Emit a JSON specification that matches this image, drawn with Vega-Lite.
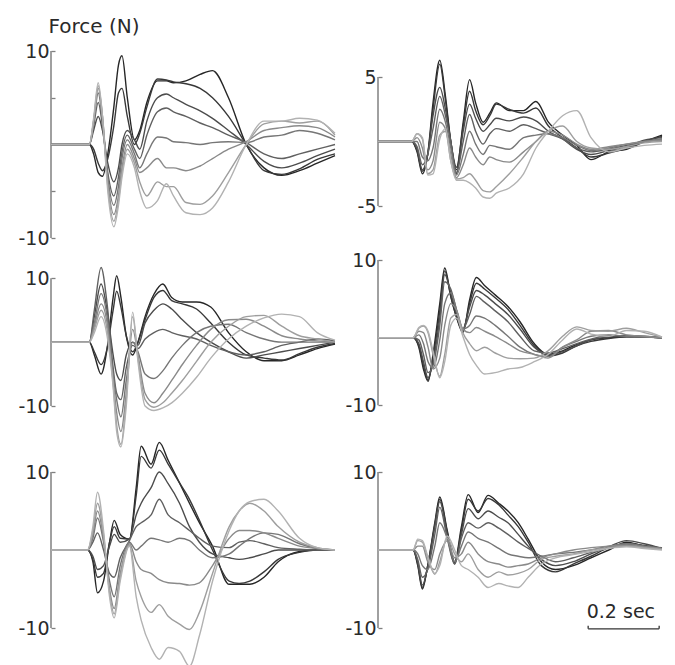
{
"$schema":"https://vega.github.io/schema/vega-lite/v6.json",
"background":"white",
"padding":{"left":17,"top":16,"right":0,"bottom":0},
"config":{"view":{"stroke":null},"axis":{"domain":false,"grid":false,"tickSize":-4,"tickColor":"#808080","tickWidth":1.3,"labelFont":"DejaVu Sans","labelFontSize":19,"labelColor":"#2a2a2a","labelPadding":6}},
"datasets":{
"ax":[{"p":1,"t":0,"lo":-10,"hi":10},{"p":2,"t":0,"lo":-5,"hi":5},{"p":3,"t":0,"lo":-10,"hi":10},{"p":4,"t":0,"lo":-10,"hi":10},{"p":5,"t":0,"lo":-10,"hi":10},{"p":6,"t":0,"lo":-10,"hi":10}],
"sb":[{"a":592,"b":792,"y":-10.1}],
"sbt":[{"x":592,"y1":-10.1,"y2":-9.7},{"x":792,"y1":-10.1,"y2":-9.7}],
"sbl":[{"x":588,"y":-8.7,"l":"0.2 sec"}],
"tr":[
{"p":1,"c":1,"t":0,"f":0},{"p":1,"c":1,"t":108,"f":0},{"p":1,"c":1,"t":120,"f":-1},{"p":1,"c":1,"t":133,"f":-3},{"p":1,"c":1,"t":145,"f":-3.4},{"p":1,"c":1,"t":160,"f":-1},{"p":1,"c":1,"t":177,"f":4},{"p":1,"c":1,"t":190,"f":8.5},{"p":1,"c":1,"t":200,"f":9.5},{"p":1,"c":1,"t":215,"f":5},{"p":1,"c":1,"t":235,"f":0.5},{"p":1,"c":1,"t":250,"f":1.5},{"p":1,"c":1,"t":270,"f":4.5},{"p":1,"c":1,"t":300,"f":6.8},{"p":1,"c":1,"t":325,"f":6.8},{"p":1,"c":1,"t":345,"f":6.6},{"p":1,"c":1,"t":380,"f":6.8},{"p":1,"c":1,"t":420,"f":7.5},{"p":1,"c":1,"t":455,"f":7.9},{"p":1,"c":1,"t":500,"f":5},{"p":1,"c":1,"t":550,"f":0},{"p":1,"c":1,"t":600,"f":-2.5},{"p":1,"c":1,"t":650,"f":-3.3},{"p":1,"c":1,"t":700,"f":-2.8},{"p":1,"c":1,"t":750,"f":-2},{"p":1,"c":1,"t":800,"f":-1.2},
{"p":1,"c":2,"t":0,"f":0},{"p":1,"c":2,"t":108,"f":0},{"p":1,"c":2,"t":120,"f":-0.5},{"p":1,"c":2,"t":133,"f":-2},{"p":1,"c":2,"t":145,"f":-2.8},{"p":1,"c":2,"t":160,"f":-1.5},{"p":1,"c":2,"t":177,"f":2},{"p":1,"c":2,"t":190,"f":5.5},{"p":1,"c":2,"t":200,"f":6},{"p":1,"c":2,"t":215,"f":3},{"p":1,"c":2,"t":235,"f":0},{"p":1,"c":2,"t":250,"f":1.2},{"p":1,"c":2,"t":270,"f":4},{"p":1,"c":2,"t":300,"f":7},{"p":1,"c":2,"t":325,"f":6.9},{"p":1,"c":2,"t":345,"f":6.7},{"p":1,"c":2,"t":380,"f":6.5},{"p":1,"c":2,"t":420,"f":6},{"p":1,"c":2,"t":455,"f":5},{"p":1,"c":2,"t":500,"f":3},{"p":1,"c":2,"t":550,"f":0},{"p":1,"c":2,"t":600,"f":-2.8},{"p":1,"c":2,"t":650,"f":-3.2},{"p":1,"c":2,"t":700,"f":-2.6},{"p":1,"c":2,"t":750,"f":-1.6},{"p":1,"c":2,"t":800,"f":-1},
{"p":1,"c":3,"t":0,"f":0},{"p":1,"c":3,"t":108,"f":0},{"p":1,"c":3,"t":120,"f":1.5},{"p":1,"c":3,"t":133,"f":3},{"p":1,"c":3,"t":145,"f":1.5},{"p":1,"c":3,"t":160,"f":-2},{"p":1,"c":3,"t":177,"f":-4},{"p":1,"c":3,"t":190,"f":-2.5},{"p":1,"c":3,"t":200,"f":0},{"p":1,"c":3,"t":215,"f":1.5},{"p":1,"c":3,"t":235,"f":0.5},{"p":1,"c":3,"t":250,"f":-0.5},{"p":1,"c":3,"t":270,"f":2.5},{"p":1,"c":3,"t":300,"f":5},{"p":1,"c":3,"t":325,"f":5.4},{"p":1,"c":3,"t":345,"f":5},{"p":1,"c":3,"t":380,"f":4.3},{"p":1,"c":3,"t":420,"f":3.6},{"p":1,"c":3,"t":455,"f":2.8},{"p":1,"c":3,"t":500,"f":1.5},{"p":1,"c":3,"t":550,"f":0},{"p":1,"c":3,"t":600,"f":-1.8},{"p":1,"c":3,"t":650,"f":-2.5},{"p":1,"c":3,"t":700,"f":-2},{"p":1,"c":3,"t":750,"f":-1.2},{"p":1,"c":3,"t":800,"f":-0.5},
{"p":1,"c":4,"t":0,"f":0},{"p":1,"c":4,"t":108,"f":0},{"p":1,"c":4,"t":120,"f":2},{"p":1,"c":4,"t":133,"f":4.5},{"p":1,"c":4,"t":145,"f":2},{"p":1,"c":4,"t":160,"f":-3},{"p":1,"c":4,"t":177,"f":-5.5},{"p":1,"c":4,"t":190,"f":-3.5},{"p":1,"c":4,"t":200,"f":-0.8},{"p":1,"c":4,"t":215,"f":1},{"p":1,"c":4,"t":235,"f":-0.5},{"p":1,"c":4,"t":250,"f":-1.5},{"p":1,"c":4,"t":270,"f":1},{"p":1,"c":4,"t":300,"f":3.5},{"p":1,"c":4,"t":325,"f":3.9},{"p":1,"c":4,"t":345,"f":3.5},{"p":1,"c":4,"t":380,"f":3},{"p":1,"c":4,"t":420,"f":2.3},{"p":1,"c":4,"t":455,"f":1.8},{"p":1,"c":4,"t":500,"f":1},{"p":1,"c":4,"t":550,"f":0.2},{"p":1,"c":4,"t":600,"f":-1},{"p":1,"c":4,"t":650,"f":-1.5},{"p":1,"c":4,"t":700,"f":-1},{"p":1,"c":4,"t":750,"f":-0.5},{"p":1,"c":4,"t":800,"f":0},
{"p":1,"c":5,"t":0,"f":0},{"p":1,"c":5,"t":108,"f":0},{"p":1,"c":5,"t":120,"f":2.2},{"p":1,"c":5,"t":133,"f":5.5},{"p":1,"c":5,"t":145,"f":2.5},{"p":1,"c":5,"t":160,"f":-3.5},{"p":1,"c":5,"t":177,"f":-6.5},{"p":1,"c":5,"t":190,"f":-4.5},{"p":1,"c":5,"t":200,"f":-1.5},{"p":1,"c":5,"t":215,"f":0.5},{"p":1,"c":5,"t":235,"f":-1},{"p":1,"c":5,"t":250,"f":-2.5},{"p":1,"c":5,"t":270,"f":-1},{"p":1,"c":5,"t":300,"f":0.8},{"p":1,"c":5,"t":325,"f":0.7},{"p":1,"c":5,"t":345,"f":0.3},{"p":1,"c":5,"t":380,"f":0.2},{"p":1,"c":5,"t":420,"f":0},{"p":1,"c":5,"t":455,"f":0.2},{"p":1,"c":5,"t":500,"f":0.3},{"p":1,"c":5,"t":550,"f":0.2},{"p":1,"c":5,"t":600,"f":0.8},{"p":1,"c":5,"t":650,"f":1},{"p":1,"c":5,"t":700,"f":1.5},{"p":1,"c":5,"t":750,"f":1.2},{"p":1,"c":5,"t":800,"f":0.5},
{"p":1,"c":6,"t":0,"f":0},{"p":1,"c":6,"t":108,"f":0},{"p":1,"c":6,"t":120,"f":2.5},{"p":1,"c":6,"t":133,"f":6},{"p":1,"c":6,"t":145,"f":3},{"p":1,"c":6,"t":160,"f":-4},{"p":1,"c":6,"t":177,"f":-7.5},{"p":1,"c":6,"t":190,"f":-5.5},{"p":1,"c":6,"t":200,"f":-2.5},{"p":1,"c":6,"t":215,"f":0},{"p":1,"c":6,"t":235,"f":-1.5},{"p":1,"c":6,"t":250,"f":-3},{"p":1,"c":6,"t":270,"f":-2.5},{"p":1,"c":6,"t":300,"f":-1.5},{"p":1,"c":6,"t":325,"f":-2.5},{"p":1,"c":6,"t":345,"f":-2.5},{"p":1,"c":6,"t":380,"f":-2.8},{"p":1,"c":6,"t":420,"f":-2.3},{"p":1,"c":6,"t":455,"f":-1.5},{"p":1,"c":6,"t":500,"f":-0.5},{"p":1,"c":6,"t":550,"f":0.3},{"p":1,"c":6,"t":600,"f":1.5},{"p":1,"c":6,"t":650,"f":1.8},{"p":1,"c":6,"t":700,"f":2},{"p":1,"c":6,"t":750,"f":1.8},{"p":1,"c":6,"t":800,"f":0.8},
{"p":1,"c":7,"t":0,"f":0},{"p":1,"c":7,"t":108,"f":0},{"p":1,"c":7,"t":120,"f":2.5},{"p":1,"c":7,"t":133,"f":6.3},{"p":1,"c":7,"t":145,"f":3},{"p":1,"c":7,"t":160,"f":-4.5},{"p":1,"c":7,"t":177,"f":-8.2},{"p":1,"c":7,"t":190,"f":-6},{"p":1,"c":7,"t":200,"f":-3},{"p":1,"c":7,"t":215,"f":-0.5},{"p":1,"c":7,"t":235,"f":-2},{"p":1,"c":7,"t":250,"f":-4},{"p":1,"c":7,"t":270,"f":-5.5},{"p":1,"c":7,"t":300,"f":-4},{"p":1,"c":7,"t":325,"f":-4.5},{"p":1,"c":7,"t":345,"f":-4.5},{"p":1,"c":7,"t":380,"f":-6.2},{"p":1,"c":7,"t":420,"f":-6.4},{"p":1,"c":7,"t":455,"f":-5.5},{"p":1,"c":7,"t":500,"f":-3},{"p":1,"c":7,"t":550,"f":0},{"p":1,"c":7,"t":600,"f":2.2},{"p":1,"c":7,"t":650,"f":2.5},{"p":1,"c":7,"t":700,"f":2.3},{"p":1,"c":7,"t":750,"f":2.5},{"p":1,"c":7,"t":800,"f":1},
{"p":1,"c":8,"t":0,"f":0},{"p":1,"c":8,"t":108,"f":0},{"p":1,"c":8,"t":120,"f":2.8},{"p":1,"c":8,"t":133,"f":6.6},{"p":1,"c":8,"t":145,"f":3},{"p":1,"c":8,"t":160,"f":-5},{"p":1,"c":8,"t":177,"f":-8.8},{"p":1,"c":8,"t":190,"f":-6.5},{"p":1,"c":8,"t":200,"f":-3.5},{"p":1,"c":8,"t":215,"f":-1},{"p":1,"c":8,"t":235,"f":-2.5},{"p":1,"c":8,"t":250,"f":-5},{"p":1,"c":8,"t":270,"f":-6.8},{"p":1,"c":8,"t":300,"f":-6},{"p":1,"c":8,"t":325,"f":-4.2},{"p":1,"c":8,"t":345,"f":-5.5},{"p":1,"c":8,"t":380,"f":-7.3},{"p":1,"c":8,"t":420,"f":-7.5},{"p":1,"c":8,"t":455,"f":-6.8},{"p":1,"c":8,"t":500,"f":-4},{"p":1,"c":8,"t":550,"f":0},{"p":1,"c":8,"t":600,"f":2.5},{"p":1,"c":8,"t":650,"f":2.5},{"p":1,"c":8,"t":700,"f":2.8},{"p":1,"c":8,"t":750,"f":2.6},{"p":1,"c":8,"t":800,"f":1.2},
{"p":2,"c":1,"t":0,"f":0},{"p":2,"c":1,"t":95,"f":0},{"p":2,"c":1,"t":110,"f":-0.8},{"p":2,"c":1,"t":125,"f":-2.5},{"p":2,"c":1,"t":140,"f":-1},{"p":2,"c":1,"t":155,"f":3},{"p":2,"c":1,"t":174,"f":6.3},{"p":2,"c":1,"t":190,"f":3.5},{"p":2,"c":1,"t":205,"f":0},{"p":2,"c":1,"t":221,"f":-2.2},{"p":2,"c":1,"t":240,"f":1.5},{"p":2,"c":1,"t":258,"f":4.8},{"p":2,"c":1,"t":275,"f":3},{"p":2,"c":1,"t":296,"f":1.5},{"p":2,"c":1,"t":315,"f":2.2},{"p":2,"c":1,"t":333,"f":3},{"p":2,"c":1,"t":370,"f":2.4},{"p":2,"c":1,"t":410,"f":2.4},{"p":2,"c":1,"t":445,"f":3.1},{"p":2,"c":1,"t":480,"f":1.5},{"p":2,"c":1,"t":520,"f":0.5},{"p":2,"c":1,"t":560,"f":-0.3},{"p":2,"c":1,"t":600,"f":-1.4},{"p":2,"c":1,"t":650,"f":-0.8},{"p":2,"c":1,"t":700,"f":-0.6},{"p":2,"c":1,"t":750,"f":0},{"p":2,"c":1,"t":800,"f":0.5},
{"p":2,"c":2,"t":0,"f":0},{"p":2,"c":2,"t":95,"f":0},{"p":2,"c":2,"t":110,"f":-0.7},{"p":2,"c":2,"t":125,"f":-2.3},{"p":2,"c":2,"t":140,"f":-1},{"p":2,"c":2,"t":155,"f":2.5},{"p":2,"c":2,"t":174,"f":6},{"p":2,"c":2,"t":190,"f":3.2},{"p":2,"c":2,"t":205,"f":0},{"p":2,"c":2,"t":221,"f":-2},{"p":2,"c":2,"t":240,"f":1.2},{"p":2,"c":2,"t":258,"f":3.9},{"p":2,"c":2,"t":275,"f":2.4},{"p":2,"c":2,"t":296,"f":1.3},{"p":2,"c":2,"t":315,"f":2},{"p":2,"c":2,"t":333,"f":2.9},{"p":2,"c":2,"t":370,"f":2.5},{"p":2,"c":2,"t":410,"f":2.2},{"p":2,"c":2,"t":445,"f":2.6},{"p":2,"c":2,"t":480,"f":1.2},{"p":2,"c":2,"t":520,"f":0.3},{"p":2,"c":2,"t":560,"f":-0.5},{"p":2,"c":2,"t":600,"f":-1.2},{"p":2,"c":2,"t":650,"f":-0.9},{"p":2,"c":2,"t":700,"f":-0.5},{"p":2,"c":2,"t":750,"f":0},{"p":2,"c":2,"t":800,"f":0.4},
{"p":2,"c":3,"t":0,"f":0},{"p":2,"c":3,"t":95,"f":0},{"p":2,"c":3,"t":110,"f":-0.6},{"p":2,"c":3,"t":125,"f":-2.2},{"p":2,"c":3,"t":140,"f":-1},{"p":2,"c":3,"t":155,"f":2},{"p":2,"c":3,"t":174,"f":4.2},{"p":2,"c":3,"t":190,"f":2.5},{"p":2,"c":3,"t":205,"f":0},{"p":2,"c":3,"t":221,"f":-2.5},{"p":2,"c":3,"t":240,"f":0.8},{"p":2,"c":3,"t":258,"f":2.9},{"p":2,"c":3,"t":275,"f":1.8},{"p":2,"c":3,"t":296,"f":0.8},{"p":2,"c":3,"t":315,"f":1.3},{"p":2,"c":3,"t":333,"f":1.8},{"p":2,"c":3,"t":370,"f":1.6},{"p":2,"c":3,"t":410,"f":1.9},{"p":2,"c":3,"t":445,"f":1.6},{"p":2,"c":3,"t":480,"f":0.8},{"p":2,"c":3,"t":520,"f":0.2},{"p":2,"c":3,"t":560,"f":-0.6},{"p":2,"c":3,"t":600,"f":-1},{"p":2,"c":3,"t":650,"f":-0.7},{"p":2,"c":3,"t":700,"f":-0.4},{"p":2,"c":3,"t":750,"f":0.1},{"p":2,"c":3,"t":800,"f":0.3},
{"p":2,"c":4,"t":0,"f":0},{"p":2,"c":4,"t":95,"f":0},{"p":2,"c":4,"t":110,"f":-0.4},{"p":2,"c":4,"t":125,"f":-1.8},{"p":2,"c":4,"t":140,"f":-1},{"p":2,"c":4,"t":155,"f":1},{"p":2,"c":4,"t":174,"f":3.5},{"p":2,"c":4,"t":190,"f":2},{"p":2,"c":4,"t":205,"f":0},{"p":2,"c":4,"t":221,"f":-2.4},{"p":2,"c":4,"t":240,"f":0},{"p":2,"c":4,"t":258,"f":2.1},{"p":2,"c":4,"t":275,"f":0.8},{"p":2,"c":4,"t":296,"f":-0.2},{"p":2,"c":4,"t":315,"f":0.6},{"p":2,"c":4,"t":333,"f":1},{"p":2,"c":4,"t":370,"f":0.8},{"p":2,"c":4,"t":410,"f":1.3},{"p":2,"c":4,"t":445,"f":1},{"p":2,"c":4,"t":480,"f":0.6},{"p":2,"c":4,"t":520,"f":0.2},{"p":2,"c":4,"t":560,"f":-0.5},{"p":2,"c":4,"t":600,"f":-0.8},{"p":2,"c":4,"t":650,"f":-0.6},{"p":2,"c":4,"t":700,"f":-0.3},{"p":2,"c":4,"t":750,"f":0},{"p":2,"c":4,"t":800,"f":0.2},
{"p":2,"c":5,"t":0,"f":0},{"p":2,"c":5,"t":95,"f":0},{"p":2,"c":5,"t":110,"f":0},{"p":2,"c":5,"t":125,"f":-1.2},{"p":2,"c":5,"t":140,"f":-1.5},{"p":2,"c":5,"t":155,"f":-0.5},{"p":2,"c":5,"t":174,"f":2.5},{"p":2,"c":5,"t":190,"f":1.5},{"p":2,"c":5,"t":205,"f":-0.5},{"p":2,"c":5,"t":221,"f":-2.6},{"p":2,"c":5,"t":240,"f":-1},{"p":2,"c":5,"t":258,"f":0.8},{"p":2,"c":5,"t":275,"f":-0.2},{"p":2,"c":5,"t":296,"f":-1},{"p":2,"c":5,"t":315,"f":-0.3},{"p":2,"c":5,"t":333,"f":-0.4},{"p":2,"c":5,"t":370,"f":-0.6},{"p":2,"c":5,"t":410,"f":0.3},{"p":2,"c":5,"t":445,"f":0.5},{"p":2,"c":5,"t":480,"f":0.6},{"p":2,"c":5,"t":520,"f":0.3},{"p":2,"c":5,"t":560,"f":-0.3},{"p":2,"c":5,"t":600,"f":-0.7},{"p":2,"c":5,"t":650,"f":-0.5},{"p":2,"c":5,"t":700,"f":-0.2},{"p":2,"c":5,"t":750,"f":0},{"p":2,"c":5,"t":800,"f":0.2},
{"p":2,"c":6,"t":0,"f":0},{"p":2,"c":6,"t":95,"f":0},{"p":2,"c":6,"t":110,"f":0.3},{"p":2,"c":6,"t":125,"f":-0.5},{"p":2,"c":6,"t":140,"f":-2.2},{"p":2,"c":6,"t":155,"f":-1.5},{"p":2,"c":6,"t":174,"f":1.5},{"p":2,"c":6,"t":190,"f":1},{"p":2,"c":6,"t":205,"f":-1},{"p":2,"c":6,"t":221,"f":-2.8},{"p":2,"c":6,"t":240,"f":-1.8},{"p":2,"c":6,"t":258,"f":-0.5},{"p":2,"c":6,"t":275,"f":-1.2},{"p":2,"c":6,"t":296,"f":-1.8},{"p":2,"c":6,"t":315,"f":-1.2},{"p":2,"c":6,"t":333,"f":-1.4},{"p":2,"c":6,"t":370,"f":-1.6},{"p":2,"c":6,"t":410,"f":-0.8},{"p":2,"c":6,"t":445,"f":0},{"p":2,"c":6,"t":480,"f":0.8},{"p":2,"c":6,"t":520,"f":0.5},{"p":2,"c":6,"t":560,"f":-0.2},{"p":2,"c":6,"t":600,"f":-0.6},{"p":2,"c":6,"t":650,"f":-0.4},{"p":2,"c":6,"t":700,"f":-0.2},{"p":2,"c":6,"t":750,"f":0},{"p":2,"c":6,"t":800,"f":0.1},
{"p":2,"c":7,"t":0,"f":0},{"p":2,"c":7,"t":95,"f":0},{"p":2,"c":7,"t":110,"f":0.6},{"p":2,"c":7,"t":125,"f":0.2},{"p":2,"c":7,"t":140,"f":-2.5},{"p":2,"c":7,"t":155,"f":-2.2},{"p":2,"c":7,"t":174,"f":0.5},{"p":2,"c":7,"t":190,"f":0.8},{"p":2,"c":7,"t":205,"f":-1.5},{"p":2,"c":7,"t":221,"f":-2.9},{"p":2,"c":7,"t":240,"f":-2.8},{"p":2,"c":7,"t":258,"f":-2.5},{"p":2,"c":7,"t":275,"f":-3},{"p":2,"c":7,"t":296,"f":-3.8},{"p":2,"c":7,"t":315,"f":-3.9},{"p":2,"c":7,"t":333,"f":-3.5},{"p":2,"c":7,"t":370,"f":-2.5},{"p":2,"c":7,"t":410,"f":-1.2},{"p":2,"c":7,"t":445,"f":0},{"p":2,"c":7,"t":480,"f":0.8},{"p":2,"c":7,"t":520,"f":1.2},{"p":2,"c":7,"t":560,"f":0},{"p":2,"c":7,"t":600,"f":-0.5},{"p":2,"c":7,"t":650,"f":-0.6},{"p":2,"c":7,"t":700,"f":-0.4},{"p":2,"c":7,"t":750,"f":-0.1},{"p":2,"c":7,"t":800,"f":0},
{"p":2,"c":8,"t":0,"f":0},{"p":2,"c":8,"t":95,"f":0},{"p":2,"c":8,"t":110,"f":0.6},{"p":2,"c":8,"t":125,"f":0.3},{"p":2,"c":8,"t":140,"f":-2.6},{"p":2,"c":8,"t":155,"f":-2.5},{"p":2,"c":8,"t":174,"f":0.2},{"p":2,"c":8,"t":190,"f":1},{"p":2,"c":8,"t":205,"f":-1.5},{"p":2,"c":8,"t":221,"f":-3},{"p":2,"c":8,"t":240,"f":-3},{"p":2,"c":8,"t":258,"f":-3.2},{"p":2,"c":8,"t":275,"f":-3.6},{"p":2,"c":8,"t":296,"f":-4.3},{"p":2,"c":8,"t":315,"f":-4.4},{"p":2,"c":8,"t":333,"f":-4},{"p":2,"c":8,"t":370,"f":-3.6},{"p":2,"c":8,"t":410,"f":-2.5},{"p":2,"c":8,"t":445,"f":-0.5},{"p":2,"c":8,"t":480,"f":0.8},{"p":2,"c":8,"t":520,"f":2},{"p":2,"c":8,"t":560,"f":2.4},{"p":2,"c":8,"t":600,"f":0.3},{"p":2,"c":8,"t":650,"f":-0.8},{"p":2,"c":8,"t":700,"f":-0.5},{"p":2,"c":8,"t":750,"f":-0.3},{"p":2,"c":8,"t":800,"f":-0.2},
{"p":3,"c":1,"t":0,"f":0},{"p":3,"c":1,"t":108,"f":0},{"p":3,"c":1,"t":122,"f":-2},{"p":3,"c":1,"t":141,"f":-5},{"p":3,"c":1,"t":158,"f":-1},{"p":3,"c":1,"t":175,"f":7},{"p":3,"c":1,"t":185,"f":10.4},{"p":3,"c":1,"t":197,"f":7},{"p":3,"c":1,"t":212,"f":1},{"p":3,"c":1,"t":230,"f":-2},{"p":3,"c":1,"t":245,"f":0},{"p":3,"c":1,"t":265,"f":4},{"p":3,"c":1,"t":290,"f":7.5},{"p":3,"c":1,"t":315,"f":9.1},{"p":3,"c":1,"t":340,"f":7},{"p":3,"c":1,"t":370,"f":6.3},{"p":3,"c":1,"t":410,"f":6.3},{"p":3,"c":1,"t":450,"f":5.5},{"p":3,"c":1,"t":500,"f":1.5},{"p":3,"c":1,"t":550,"f":-1.5},{"p":3,"c":1,"t":600,"f":-2.9},{"p":3,"c":1,"t":650,"f":-2.9},{"p":3,"c":1,"t":700,"f":-2},{"p":3,"c":1,"t":750,"f":-1},{"p":3,"c":1,"t":800,"f":-0.3},
{"p":3,"c":2,"t":0,"f":0},{"p":3,"c":2,"t":108,"f":0},{"p":3,"c":2,"t":122,"f":-1.5},{"p":3,"c":2,"t":141,"f":-3.5},{"p":3,"c":2,"t":158,"f":-1},{"p":3,"c":2,"t":175,"f":5},{"p":3,"c":2,"t":185,"f":8},{"p":3,"c":2,"t":197,"f":5.5},{"p":3,"c":2,"t":212,"f":1},{"p":3,"c":2,"t":230,"f":-1.5},{"p":3,"c":2,"t":245,"f":0},{"p":3,"c":2,"t":265,"f":3.5},{"p":3,"c":2,"t":290,"f":7},{"p":3,"c":2,"t":315,"f":8.1},{"p":3,"c":2,"t":340,"f":6.5},{"p":3,"c":2,"t":370,"f":6},{"p":3,"c":2,"t":410,"f":5.2},{"p":3,"c":2,"t":450,"f":3},{"p":3,"c":2,"t":500,"f":0},{"p":3,"c":2,"t":550,"f":-2},{"p":3,"c":2,"t":600,"f":-2.5},{"p":3,"c":2,"t":650,"f":-2.8},{"p":3,"c":2,"t":700,"f":-1.8},{"p":3,"c":2,"t":750,"f":-0.8},{"p":3,"c":2,"t":800,"f":-0.2},
{"p":3,"c":3,"t":0,"f":0},{"p":3,"c":3,"t":108,"f":0},{"p":3,"c":3,"t":122,"f":4},{"p":3,"c":3,"t":141,"f":9.1},{"p":3,"c":3,"t":158,"f":5},{"p":3,"c":3,"t":175,"f":-2},{"p":3,"c":3,"t":185,"f":-5},{"p":3,"c":3,"t":197,"f":-6},{"p":3,"c":3,"t":212,"f":-2},{"p":3,"c":3,"t":230,"f":0},{"p":3,"c":3,"t":245,"f":-0.5},{"p":3,"c":3,"t":265,"f":3},{"p":3,"c":3,"t":290,"f":5},{"p":3,"c":3,"t":315,"f":6},{"p":3,"c":3,"t":340,"f":5.2},{"p":3,"c":3,"t":370,"f":3.5},{"p":3,"c":3,"t":410,"f":1.5},{"p":3,"c":3,"t":450,"f":0},{"p":3,"c":3,"t":500,"f":-1.5},{"p":3,"c":3,"t":550,"f":-2.5},{"p":3,"c":3,"t":600,"f":-2},{"p":3,"c":3,"t":650,"f":-1.5},{"p":3,"c":3,"t":700,"f":-1},{"p":3,"c":3,"t":750,"f":-0.5},{"p":3,"c":3,"t":800,"f":0},
{"p":3,"c":4,"t":0,"f":0},{"p":3,"c":4,"t":108,"f":0},{"p":3,"c":4,"t":122,"f":5},{"p":3,"c":4,"t":141,"f":11.7},{"p":3,"c":4,"t":158,"f":6},{"p":3,"c":4,"t":175,"f":-4},{"p":3,"c":4,"t":185,"f":-8},{"p":3,"c":4,"t":197,"f":-9},{"p":3,"c":4,"t":212,"f":-4},{"p":3,"c":4,"t":230,"f":-0.5},{"p":3,"c":4,"t":245,"f":-1},{"p":3,"c":4,"t":265,"f":0.5},{"p":3,"c":4,"t":290,"f":1.5},{"p":3,"c":4,"t":315,"f":2},{"p":3,"c":4,"t":340,"f":1.5},{"p":3,"c":4,"t":370,"f":1},{"p":3,"c":4,"t":410,"f":0.5},{"p":3,"c":4,"t":450,"f":-0.5},{"p":3,"c":4,"t":500,"f":-1.5},{"p":3,"c":4,"t":550,"f":-2},{"p":3,"c":4,"t":600,"f":-1.5},{"p":3,"c":4,"t":650,"f":-0.5},{"p":3,"c":4,"t":700,"f":0},{"p":3,"c":4,"t":750,"f":0.5},{"p":3,"c":4,"t":800,"f":0.2},
{"p":3,"c":5,"t":0,"f":0},{"p":3,"c":5,"t":108,"f":0},{"p":3,"c":5,"t":122,"f":3},{"p":3,"c":5,"t":141,"f":7.6},{"p":3,"c":5,"t":158,"f":4},{"p":3,"c":5,"t":175,"f":-5},{"p":3,"c":5,"t":185,"f":-9},{"p":3,"c":5,"t":197,"f":-11.7},{"p":3,"c":5,"t":212,"f":-6},{"p":3,"c":5,"t":230,"f":0},{"p":3,"c":5,"t":245,"f":-1.5},{"p":3,"c":5,"t":265,"f":-5},{"p":3,"c":5,"t":290,"f":-5.7},{"p":3,"c":5,"t":315,"f":-4.5},{"p":3,"c":5,"t":340,"f":-2.5},{"p":3,"c":5,"t":370,"f":-0.5},{"p":3,"c":5,"t":410,"f":1.5},{"p":3,"c":5,"t":450,"f":2.5},{"p":3,"c":5,"t":500,"f":2.8},{"p":3,"c":5,"t":550,"f":1.5},{"p":3,"c":5,"t":600,"f":0.5},{"p":3,"c":5,"t":650,"f":0},{"p":3,"c":5,"t":700,"f":0},{"p":3,"c":5,"t":750,"f":0},{"p":3,"c":5,"t":800,"f":0},
{"p":3,"c":6,"t":0,"f":0},{"p":3,"c":6,"t":108,"f":0},{"p":3,"c":6,"t":122,"f":2.5},{"p":3,"c":6,"t":141,"f":6},{"p":3,"c":6,"t":158,"f":3},{"p":3,"c":6,"t":175,"f":-6},{"p":3,"c":6,"t":185,"f":-11},{"p":3,"c":6,"t":197,"f":-14},{"p":3,"c":6,"t":212,"f":-8},{"p":3,"c":6,"t":230,"f":2},{"p":3,"c":6,"t":245,"f":-2},{"p":3,"c":6,"t":265,"f":-8},{"p":3,"c":6,"t":290,"f":-9.5},{"p":3,"c":6,"t":315,"f":-8},{"p":3,"c":6,"t":340,"f":-6},{"p":3,"c":6,"t":370,"f":-3.5},{"p":3,"c":6,"t":410,"f":-0.5},{"p":3,"c":6,"t":450,"f":2},{"p":3,"c":6,"t":500,"f":3.5},{"p":3,"c":6,"t":550,"f":3.6},{"p":3,"c":6,"t":600,"f":2.5},{"p":3,"c":6,"t":650,"f":1},{"p":3,"c":6,"t":700,"f":0.5},{"p":3,"c":6,"t":750,"f":0.2},{"p":3,"c":6,"t":800,"f":0},
{"p":3,"c":7,"t":0,"f":0},{"p":3,"c":7,"t":108,"f":0},{"p":3,"c":7,"t":122,"f":2},{"p":3,"c":7,"t":141,"f":5},{"p":3,"c":7,"t":158,"f":2},{"p":3,"c":7,"t":175,"f":-6.5},{"p":3,"c":7,"t":185,"f":-13},{"p":3,"c":7,"t":197,"f":-16},{"p":3,"c":7,"t":212,"f":-9},{"p":3,"c":7,"t":230,"f":4},{"p":3,"c":7,"t":245,"f":-2.5},{"p":3,"c":7,"t":265,"f":-9},{"p":3,"c":7,"t":290,"f":-10.2},{"p":3,"c":7,"t":315,"f":-9.5},{"p":3,"c":7,"t":340,"f":-8},{"p":3,"c":7,"t":370,"f":-6},{"p":3,"c":7,"t":410,"f":-3},{"p":3,"c":7,"t":450,"f":0},{"p":3,"c":7,"t":500,"f":2.5},{"p":3,"c":7,"t":550,"f":4},{"p":3,"c":7,"t":600,"f":4.2},{"p":3,"c":7,"t":650,"f":2.5},{"p":3,"c":7,"t":700,"f":1},{"p":3,"c":7,"t":750,"f":0.5},{"p":3,"c":7,"t":800,"f":0},
{"p":3,"c":8,"t":0,"f":0},{"p":3,"c":8,"t":108,"f":0},{"p":3,"c":8,"t":122,"f":1.5},{"p":3,"c":8,"t":141,"f":4},{"p":3,"c":8,"t":158,"f":1},{"p":3,"c":8,"t":175,"f":-7},{"p":3,"c":8,"t":185,"f":-14},{"p":3,"c":8,"t":197,"f":-16.4},{"p":3,"c":8,"t":212,"f":-10},{"p":3,"c":8,"t":230,"f":4.7},{"p":3,"c":8,"t":245,"f":-3},{"p":3,"c":8,"t":265,"f":-10},{"p":3,"c":8,"t":290,"f":-10.7},{"p":3,"c":8,"t":315,"f":-10.3},{"p":3,"c":8,"t":340,"f":-9.5},{"p":3,"c":8,"t":370,"f":-8},{"p":3,"c":8,"t":410,"f":-5.5},{"p":3,"c":8,"t":450,"f":-2.5},{"p":3,"c":8,"t":500,"f":0.5},{"p":3,"c":8,"t":550,"f":2.5},{"p":3,"c":8,"t":600,"f":3.8},{"p":3,"c":8,"t":650,"f":4.4},{"p":3,"c":8,"t":700,"f":4},{"p":3,"c":8,"t":750,"f":1.5},{"p":3,"c":8,"t":800,"f":0.3},
{"p":4,"c":1,"t":0,"f":-0.7},{"p":4,"c":1,"t":99,"f":-0.7},{"p":4,"c":1,"t":115,"f":-2},{"p":4,"c":1,"t":128,"f":-5},{"p":4,"c":1,"t":141,"f":-6.7},{"p":4,"c":1,"t":155,"f":-3},{"p":4,"c":1,"t":174,"f":4},{"p":4,"c":1,"t":188,"f":8.9},{"p":4,"c":1,"t":205,"f":5},{"p":4,"c":1,"t":222,"f":2},{"p":4,"c":1,"t":239,"f":0},{"p":4,"c":1,"t":258,"f":4.5},{"p":4,"c":1,"t":277,"f":7.6},{"p":4,"c":1,"t":300,"f":6.5},{"p":4,"c":1,"t":330,"f":5.2},{"p":4,"c":1,"t":366,"f":3.6},{"p":4,"c":1,"t":400,"f":1.5},{"p":4,"c":1,"t":440,"f":-1.5},{"p":4,"c":1,"t":479,"f":-3},{"p":4,"c":1,"t":520,"f":-2.5},{"p":4,"c":1,"t":560,"f":-1.6},{"p":4,"c":1,"t":600,"f":-1},{"p":4,"c":1,"t":650,"f":-0.7},{"p":4,"c":1,"t":700,"f":-0.5},{"p":4,"c":1,"t":750,"f":-0.6},{"p":4,"c":1,"t":800,"f":-0.7},
{"p":4,"c":2,"t":0,"f":-0.7},{"p":4,"c":2,"t":99,"f":-0.7},{"p":4,"c":2,"t":115,"f":-1.8},{"p":4,"c":2,"t":128,"f":-4.5},{"p":4,"c":2,"t":141,"f":-6.5},{"p":4,"c":2,"t":155,"f":-3.5},{"p":4,"c":2,"t":174,"f":3},{"p":4,"c":2,"t":188,"f":8.5},{"p":4,"c":2,"t":205,"f":5},{"p":4,"c":2,"t":222,"f":2},{"p":4,"c":2,"t":239,"f":0.2},{"p":4,"c":2,"t":258,"f":4},{"p":4,"c":2,"t":277,"f":6.8},{"p":4,"c":2,"t":300,"f":6},{"p":4,"c":2,"t":330,"f":4.8},{"p":4,"c":2,"t":366,"f":3.2},{"p":4,"c":2,"t":400,"f":1},{"p":4,"c":2,"t":440,"f":-1.8},{"p":4,"c":2,"t":479,"f":-3.2},{"p":4,"c":2,"t":520,"f":-2.8},{"p":4,"c":2,"t":560,"f":-1.8},{"p":4,"c":2,"t":600,"f":-1.2},{"p":4,"c":2,"t":650,"f":-0.8},{"p":4,"c":2,"t":700,"f":-0.6},{"p":4,"c":2,"t":750,"f":-0.6},{"p":4,"c":2,"t":800,"f":-0.7},
{"p":4,"c":3,"t":0,"f":-0.7},{"p":4,"c":3,"t":99,"f":-0.7},{"p":4,"c":3,"t":115,"f":-1.5},{"p":4,"c":3,"t":128,"f":-4},{"p":4,"c":3,"t":141,"f":-6.2},{"p":4,"c":3,"t":155,"f":-4},{"p":4,"c":3,"t":174,"f":2},{"p":4,"c":3,"t":188,"f":8},{"p":4,"c":3,"t":205,"f":5.5},{"p":4,"c":3,"t":222,"f":2.5},{"p":4,"c":3,"t":239,"f":0.5},{"p":4,"c":3,"t":258,"f":3.5},{"p":4,"c":3,"t":277,"f":5.8},{"p":4,"c":3,"t":300,"f":5.2},{"p":4,"c":3,"t":330,"f":4},{"p":4,"c":3,"t":366,"f":2.5},{"p":4,"c":3,"t":400,"f":0.5},{"p":4,"c":3,"t":440,"f":-2},{"p":4,"c":3,"t":479,"f":-3},{"p":4,"c":3,"t":520,"f":-2.6},{"p":4,"c":3,"t":560,"f":-1.8},{"p":4,"c":3,"t":600,"f":-1},{"p":4,"c":3,"t":650,"f":-0.6},{"p":4,"c":3,"t":700,"f":-0.4},{"p":4,"c":3,"t":750,"f":-0.5},{"p":4,"c":3,"t":800,"f":-0.7},
{"p":4,"c":4,"t":0,"f":-0.7},{"p":4,"c":4,"t":99,"f":-0.7},{"p":4,"c":4,"t":115,"f":-1},{"p":4,"c":4,"t":128,"f":-3},{"p":4,"c":4,"t":141,"f":-5.5},{"p":4,"c":4,"t":155,"f":-4.5},{"p":4,"c":4,"t":174,"f":1},{"p":4,"c":4,"t":188,"f":7},{"p":4,"c":4,"t":205,"f":6},{"p":4,"c":4,"t":222,"f":3},{"p":4,"c":4,"t":239,"f":0.5},{"p":4,"c":4,"t":258,"f":2.5},{"p":4,"c":4,"t":277,"f":5},{"p":4,"c":4,"t":300,"f":4.2},{"p":4,"c":4,"t":330,"f":3},{"p":4,"c":4,"t":366,"f":1.5},{"p":4,"c":4,"t":400,"f":-0.5},{"p":4,"c":4,"t":440,"f":-2.5},{"p":4,"c":4,"t":479,"f":-2.8},{"p":4,"c":4,"t":520,"f":-2.2},{"p":4,"c":4,"t":560,"f":-1.5},{"p":4,"c":4,"t":600,"f":-0.9},{"p":4,"c":4,"t":650,"f":-0.4},{"p":4,"c":4,"t":700,"f":-0.5},{"p":4,"c":4,"t":750,"f":-0.6},{"p":4,"c":4,"t":800,"f":-0.7},
{"p":4,"c":5,"t":0,"f":-0.7},{"p":4,"c":5,"t":99,"f":-0.7},{"p":4,"c":5,"t":115,"f":-0.3},{"p":4,"c":5,"t":128,"f":-1.5},{"p":4,"c":5,"t":141,"f":-4},{"p":4,"c":5,"t":155,"f":-4.8},{"p":4,"c":5,"t":174,"f":-1},{"p":4,"c":5,"t":188,"f":4},{"p":4,"c":5,"t":205,"f":5.5},{"p":4,"c":5,"t":222,"f":3},{"p":4,"c":5,"t":239,"f":0.5},{"p":4,"c":5,"t":258,"f":1},{"p":4,"c":5,"t":277,"f":2.3},{"p":4,"c":5,"t":300,"f":2},{"p":4,"c":5,"t":330,"f":1},{"p":4,"c":5,"t":366,"f":-0.5},{"p":4,"c":5,"t":400,"f":-2},{"p":4,"c":5,"t":440,"f":-3},{"p":4,"c":5,"t":479,"f":-3.3},{"p":4,"c":5,"t":520,"f":-2},{"p":4,"c":5,"t":560,"f":-1.2},{"p":4,"c":5,"t":600,"f":-0.5},{"p":4,"c":5,"t":650,"f":-0.3},{"p":4,"c":5,"t":700,"f":-0.5},{"p":4,"c":5,"t":750,"f":-0.6},{"p":4,"c":5,"t":800,"f":-0.7},
{"p":4,"c":6,"t":0,"f":-0.7},{"p":4,"c":6,"t":99,"f":-0.7},{"p":4,"c":6,"t":115,"f":0.2},{"p":4,"c":6,"t":128,"f":0},{"p":4,"c":6,"t":141,"f":-2},{"p":4,"c":6,"t":155,"f":-5},{"p":4,"c":6,"t":174,"f":-3.5},{"p":4,"c":6,"t":188,"f":1},{"p":4,"c":6,"t":205,"f":4},{"p":4,"c":6,"t":222,"f":3},{"p":4,"c":6,"t":239,"f":0.5},{"p":4,"c":6,"t":258,"f":0},{"p":4,"c":6,"t":277,"f":0.7},{"p":4,"c":6,"t":300,"f":0.2},{"p":4,"c":6,"t":330,"f":-0.5},{"p":4,"c":6,"t":366,"f":-1.5},{"p":4,"c":6,"t":400,"f":-2.5},{"p":4,"c":6,"t":440,"f":-3},{"p":4,"c":6,"t":479,"f":-3.5},{"p":4,"c":6,"t":520,"f":-2},{"p":4,"c":6,"t":560,"f":-1},{"p":4,"c":6,"t":600,"f":0.2},{"p":4,"c":6,"t":650,"f":0.3},{"p":4,"c":6,"t":700,"f":-0.3},{"p":4,"c":6,"t":750,"f":-0.5},{"p":4,"c":6,"t":800,"f":-0.7},
{"p":4,"c":7,"t":0,"f":-0.7},{"p":4,"c":7,"t":99,"f":-0.7},{"p":4,"c":7,"t":115,"f":0.6},{"p":4,"c":7,"t":128,"f":0.9},{"p":4,"c":7,"t":141,"f":0},{"p":4,"c":7,"t":155,"f":-3},{"p":4,"c":7,"t":174,"f":-6},{"p":4,"c":7,"t":188,"f":-3},{"p":4,"c":7,"t":205,"f":2},{"p":4,"c":7,"t":222,"f":2.5},{"p":4,"c":7,"t":239,"f":0},{"p":4,"c":7,"t":258,"f":-1.5},{"p":4,"c":7,"t":277,"f":-2.5},{"p":4,"c":7,"t":300,"f":-2},{"p":4,"c":7,"t":330,"f":-2.8},{"p":4,"c":7,"t":366,"f":-3.5},{"p":4,"c":7,"t":400,"f":-3.6},{"p":4,"c":7,"t":440,"f":-3.5},{"p":4,"c":7,"t":479,"f":-2.5},{"p":4,"c":7,"t":520,"f":-0.5},{"p":4,"c":7,"t":560,"f":0.8},{"p":4,"c":7,"t":600,"f":0.3},{"p":4,"c":7,"t":650,"f":0.2},{"p":4,"c":7,"t":700,"f":0.6},{"p":4,"c":7,"t":750,"f":0},{"p":4,"c":7,"t":800,"f":-0.6},
{"p":4,"c":8,"t":0,"f":-0.7},{"p":4,"c":8,"t":99,"f":-0.7},{"p":4,"c":8,"t":115,"f":0.7},{"p":4,"c":8,"t":128,"f":1},{"p":4,"c":8,"t":141,"f":0.2},{"p":4,"c":8,"t":155,"f":-2.5},{"p":4,"c":8,"t":174,"f":-6.2},{"p":4,"c":8,"t":188,"f":-4},{"p":4,"c":8,"t":205,"f":1},{"p":4,"c":8,"t":222,"f":2},{"p":4,"c":8,"t":239,"f":-0.5},{"p":4,"c":8,"t":258,"f":-3},{"p":4,"c":8,"t":277,"f":-4.5},{"p":4,"c":8,"t":300,"f":-5.7},{"p":4,"c":8,"t":330,"f":-5.5},{"p":4,"c":8,"t":366,"f":-5},{"p":4,"c":8,"t":400,"f":-4.8},{"p":4,"c":8,"t":440,"f":-4},{"p":4,"c":8,"t":479,"f":-3},{"p":4,"c":8,"t":520,"f":-1},{"p":4,"c":8,"t":560,"f":0.5},{"p":4,"c":8,"t":600,"f":-0.2},{"p":4,"c":8,"t":650,"f":-0.5},{"p":4,"c":8,"t":700,"f":0.3},{"p":4,"c":8,"t":750,"f":0.2},{"p":4,"c":8,"t":800,"f":-0.6},
{"p":5,"c":1,"t":0,"f":0},{"p":5,"c":1,"t":103,"f":0},{"p":5,"c":1,"t":118,"f":-1.5},{"p":5,"c":1,"t":131,"f":-5.5},{"p":5,"c":1,"t":148,"f":-4},{"p":5,"c":1,"t":165,"f":1},{"p":5,"c":1,"t":178,"f":3.8},{"p":5,"c":1,"t":195,"f":2},{"p":5,"c":1,"t":221,"f":1.4},{"p":5,"c":1,"t":240,"f":8},{"p":5,"c":1,"t":254,"f":13.3},{"p":5,"c":1,"t":282,"f":11},{"p":5,"c":1,"t":305,"f":13.8},{"p":5,"c":1,"t":330,"f":11.5},{"p":5,"c":1,"t":362,"f":8.6},{"p":5,"c":1,"t":390,"f":6},{"p":5,"c":1,"t":418,"f":3.5},{"p":5,"c":1,"t":455,"f":0.5},{"p":5,"c":1,"t":502,"f":-4.4},{"p":5,"c":1,"t":530,"f":-4.4},{"p":5,"c":1,"t":560,"f":-4.4},{"p":5,"c":1,"t":600,"f":-3.5},{"p":5,"c":1,"t":640,"f":-1.5},{"p":5,"c":1,"t":700,"f":-0.2},{"p":5,"c":1,"t":750,"f":0},{"p":5,"c":1,"t":800,"f":0},
{"p":5,"c":2,"t":0,"f":0},{"p":5,"c":2,"t":103,"f":0},{"p":5,"c":2,"t":118,"f":-1.2},{"p":5,"c":2,"t":131,"f":-3.5},{"p":5,"c":2,"t":148,"f":-3},{"p":5,"c":2,"t":165,"f":1},{"p":5,"c":2,"t":178,"f":3},{"p":5,"c":2,"t":195,"f":1.5},{"p":5,"c":2,"t":221,"f":1.4},{"p":5,"c":2,"t":240,"f":7},{"p":5,"c":2,"t":254,"f":12},{"p":5,"c":2,"t":282,"f":10.5},{"p":5,"c":2,"t":305,"f":12.8},{"p":5,"c":2,"t":330,"f":11},{"p":5,"c":2,"t":362,"f":8.6},{"p":5,"c":2,"t":390,"f":6.5},{"p":5,"c":2,"t":418,"f":3.8},{"p":5,"c":2,"t":455,"f":0},{"p":5,"c":2,"t":502,"f":-4},{"p":5,"c":2,"t":530,"f":-4.3},{"p":5,"c":2,"t":560,"f":-4},{"p":5,"c":2,"t":600,"f":-2.8},{"p":5,"c":2,"t":640,"f":-1.2},{"p":5,"c":2,"t":700,"f":-0.3},{"p":5,"c":2,"t":750,"f":0},{"p":5,"c":2,"t":800,"f":0},
{"p":5,"c":3,"t":0,"f":0},{"p":5,"c":3,"t":103,"f":0},{"p":5,"c":3,"t":118,"f":-0.8},{"p":5,"c":3,"t":131,"f":-2.5},{"p":5,"c":3,"t":148,"f":-2},{"p":5,"c":3,"t":165,"f":0.5},{"p":5,"c":3,"t":178,"f":2},{"p":5,"c":3,"t":195,"f":1},{"p":5,"c":3,"t":221,"f":1.4},{"p":5,"c":3,"t":240,"f":4.5},{"p":5,"c":3,"t":254,"f":6},{"p":5,"c":3,"t":282,"f":8},{"p":5,"c":3,"t":305,"f":10},{"p":5,"c":3,"t":330,"f":8.5},{"p":5,"c":3,"t":362,"f":6},{"p":5,"c":3,"t":390,"f":3},{"p":5,"c":3,"t":418,"f":1},{"p":5,"c":3,"t":455,"f":-0.5},{"p":5,"c":3,"t":502,"f":-1},{"p":5,"c":3,"t":530,"f":-1.2},{"p":5,"c":3,"t":560,"f":-1},{"p":5,"c":3,"t":600,"f":-0.5},{"p":5,"c":3,"t":640,"f":0},{"p":5,"c":3,"t":700,"f":0},{"p":5,"c":3,"t":750,"f":0},{"p":5,"c":3,"t":800,"f":0},
{"p":5,"c":4,"t":0,"f":0},{"p":5,"c":4,"t":103,"f":0},{"p":5,"c":4,"t":118,"f":1},{"p":5,"c":4,"t":131,"f":2.2},{"p":5,"c":4,"t":148,"f":0},{"p":5,"c":4,"t":165,"f":-3},{"p":5,"c":4,"t":178,"f":-3.5},{"p":5,"c":4,"t":195,"f":-1},{"p":5,"c":4,"t":221,"f":1.2},{"p":5,"c":4,"t":240,"f":3},{"p":5,"c":4,"t":254,"f":3.5},{"p":5,"c":4,"t":282,"f":4.5},{"p":5,"c":4,"t":305,"f":6.5},{"p":5,"c":4,"t":330,"f":4.5},{"p":5,"c":4,"t":362,"f":3.5},{"p":5,"c":4,"t":390,"f":2.5},{"p":5,"c":4,"t":418,"f":1.5},{"p":5,"c":4,"t":455,"f":0.5},{"p":5,"c":4,"t":502,"f":0.3},{"p":5,"c":4,"t":530,"f":1},{"p":5,"c":4,"t":560,"f":1.2},{"p":5,"c":4,"t":600,"f":0.8},{"p":5,"c":4,"t":640,"f":0.3},{"p":5,"c":4,"t":700,"f":0.1},{"p":5,"c":4,"t":750,"f":0},{"p":5,"c":4,"t":800,"f":0},
{"p":5,"c":5,"t":0,"f":0},{"p":5,"c":5,"t":103,"f":0},{"p":5,"c":5,"t":118,"f":1.5},{"p":5,"c":5,"t":131,"f":4.1},{"p":5,"c":5,"t":148,"f":1},{"p":5,"c":5,"t":165,"f":-4},{"p":5,"c":5,"t":178,"f":-6},{"p":5,"c":5,"t":195,"f":-2},{"p":5,"c":5,"t":221,"f":1},{"p":5,"c":5,"t":240,"f":0},{"p":5,"c":5,"t":254,"f":0.5},{"p":5,"c":5,"t":282,"f":1.5},{"p":5,"c":5,"t":305,"f":1.3},{"p":5,"c":5,"t":330,"f":1},{"p":5,"c":5,"t":362,"f":1.5},{"p":5,"c":5,"t":390,"f":1.2},{"p":5,"c":5,"t":418,"f":0},{"p":5,"c":5,"t":455,"f":-1},{"p":5,"c":5,"t":502,"f":-0.5},{"p":5,"c":5,"t":530,"f":0.5},{"p":5,"c":5,"t":560,"f":1.5},{"p":5,"c":5,"t":600,"f":2.2},{"p":5,"c":5,"t":640,"f":2},{"p":5,"c":5,"t":700,"f":0.8},{"p":5,"c":5,"t":750,"f":0.2},{"p":5,"c":5,"t":800,"f":0},
{"p":5,"c":6,"t":0,"f":0},{"p":5,"c":6,"t":103,"f":0},{"p":5,"c":6,"t":118,"f":2},{"p":5,"c":6,"t":131,"f":5},{"p":5,"c":6,"t":148,"f":1.5},{"p":5,"c":6,"t":165,"f":-5},{"p":5,"c":6,"t":178,"f":-7.5},{"p":5,"c":6,"t":195,"f":-3},{"p":5,"c":6,"t":221,"f":0.8},{"p":5,"c":6,"t":240,"f":-1.5},{"p":5,"c":6,"t":254,"f":-2.5},{"p":5,"c":6,"t":282,"f":-3},{"p":5,"c":6,"t":305,"f":-3.8},{"p":5,"c":6,"t":330,"f":-4.2},{"p":5,"c":6,"t":362,"f":-4.3},{"p":5,"c":6,"t":390,"f":-4.5},{"p":5,"c":6,"t":418,"f":-4.2},{"p":5,"c":6,"t":455,"f":-2},{"p":5,"c":6,"t":502,"f":1.5},{"p":5,"c":6,"t":530,"f":2.5},{"p":5,"c":6,"t":560,"f":2.5},{"p":5,"c":6,"t":600,"f":2.2},{"p":5,"c":6,"t":640,"f":1.5},{"p":5,"c":6,"t":700,"f":0.5},{"p":5,"c":6,"t":750,"f":0.2},{"p":5,"c":6,"t":800,"f":0},
{"p":5,"c":7,"t":0,"f":0},{"p":5,"c":7,"t":103,"f":0},{"p":5,"c":7,"t":118,"f":2.5},{"p":5,"c":7,"t":131,"f":6},{"p":5,"c":7,"t":148,"f":2},{"p":5,"c":7,"t":165,"f":-5.5},{"p":5,"c":7,"t":178,"f":-8.2},{"p":5,"c":7,"t":195,"f":-3.5},{"p":5,"c":7,"t":221,"f":0.6},{"p":5,"c":7,"t":240,"f":-4},{"p":5,"c":7,"t":254,"f":-6},{"p":5,"c":7,"t":282,"f":-8},{"p":5,"c":7,"t":305,"f":-7},{"p":5,"c":7,"t":330,"f":-8.5},{"p":5,"c":7,"t":362,"f":-9.5},{"p":5,"c":7,"t":390,"f":-10.2},{"p":5,"c":7,"t":418,"f":-8},{"p":5,"c":7,"t":455,"f":-3},{"p":5,"c":7,"t":502,"f":3},{"p":5,"c":7,"t":530,"f":5},{"p":5,"c":7,"t":560,"f":6},{"p":5,"c":7,"t":600,"f":5},{"p":5,"c":7,"t":640,"f":3},{"p":5,"c":7,"t":700,"f":1},{"p":5,"c":7,"t":750,"f":0.3},{"p":5,"c":7,"t":800,"f":0},
{"p":5,"c":8,"t":0,"f":0},{"p":5,"c":8,"t":103,"f":0},{"p":5,"c":8,"t":118,"f":3},{"p":5,"c":8,"t":131,"f":7.4},{"p":5,"c":8,"t":148,"f":2.5},{"p":5,"c":8,"t":165,"f":-6},{"p":5,"c":8,"t":178,"f":-8.7},{"p":5,"c":8,"t":195,"f":-4},{"p":5,"c":8,"t":221,"f":0.5},{"p":5,"c":8,"t":240,"f":-6},{"p":5,"c":8,"t":254,"f":-9},{"p":5,"c":8,"t":282,"f":-12.5},{"p":5,"c":8,"t":305,"f":-14},{"p":5,"c":8,"t":330,"f":-12.5},{"p":5,"c":8,"t":362,"f":-13},{"p":5,"c":8,"t":390,"f":-14.9},{"p":5,"c":8,"t":418,"f":-11},{"p":5,"c":8,"t":455,"f":-4},{"p":5,"c":8,"t":502,"f":2.5},{"p":5,"c":8,"t":530,"f":5},{"p":5,"c":8,"t":560,"f":6.2},{"p":5,"c":8,"t":600,"f":6.5},{"p":5,"c":8,"t":640,"f":5},{"p":5,"c":8,"t":700,"f":1.5},{"p":5,"c":8,"t":750,"f":0.3},{"p":5,"c":8,"t":800,"f":0},
{"p":6,"c":1,"t":0,"f":0},{"p":6,"c":1,"t":99,"f":0},{"p":6,"c":1,"t":112,"f":-2},{"p":6,"c":1,"t":125,"f":-5},{"p":6,"c":1,"t":140,"f":-2},{"p":6,"c":1,"t":160,"f":3.5},{"p":6,"c":1,"t":174,"f":6.8},{"p":6,"c":1,"t":195,"f":2.5},{"p":6,"c":1,"t":216,"f":-1.5},{"p":6,"c":1,"t":235,"f":3},{"p":6,"c":1,"t":254,"f":7.1},{"p":6,"c":1,"t":282,"f":4.8},{"p":6,"c":1,"t":310,"f":7},{"p":6,"c":1,"t":340,"f":6},{"p":6,"c":1,"t":366,"f":5},{"p":6,"c":1,"t":395,"f":3.5},{"p":6,"c":1,"t":423,"f":1.4},{"p":6,"c":1,"t":460,"f":-1.5},{"p":6,"c":1,"t":500,"f":-2.5},{"p":6,"c":1,"t":550,"f":-2},{"p":6,"c":1,"t":600,"f":-1},{"p":6,"c":1,"t":650,"f":0},{"p":6,"c":1,"t":700,"f":1},{"p":6,"c":1,"t":750,"f":0.5},{"p":6,"c":1,"t":800,"f":0.3},
{"p":6,"c":2,"t":0,"f":0},{"p":6,"c":2,"t":99,"f":0},{"p":6,"c":2,"t":112,"f":-1.8},{"p":6,"c":2,"t":125,"f":-4.8},{"p":6,"c":2,"t":140,"f":-2},{"p":6,"c":2,"t":160,"f":3.2},{"p":6,"c":2,"t":174,"f":6.5},{"p":6,"c":2,"t":195,"f":2.3},{"p":6,"c":2,"t":216,"f":-1.6},{"p":6,"c":2,"t":235,"f":2.5},{"p":6,"c":2,"t":254,"f":6.5},{"p":6,"c":2,"t":282,"f":5},{"p":6,"c":2,"t":310,"f":6.6},{"p":6,"c":2,"t":340,"f":5.8},{"p":6,"c":2,"t":366,"f":4.5},{"p":6,"c":2,"t":395,"f":3},{"p":6,"c":2,"t":423,"f":1},{"p":6,"c":2,"t":460,"f":-2},{"p":6,"c":2,"t":500,"f":-2.8},{"p":6,"c":2,"t":550,"f":-1.8},{"p":6,"c":2,"t":600,"f":-0.8},{"p":6,"c":2,"t":650,"f":0.3},{"p":6,"c":2,"t":700,"f":0.8},{"p":6,"c":2,"t":750,"f":0.6},{"p":6,"c":2,"t":800,"f":0.2},
{"p":6,"c":3,"t":0,"f":0},{"p":6,"c":3,"t":99,"f":0},{"p":6,"c":3,"t":112,"f":-1.6},{"p":6,"c":3,"t":125,"f":-4.5},{"p":6,"c":3,"t":140,"f":-2.2},{"p":6,"c":3,"t":160,"f":3},{"p":6,"c":3,"t":174,"f":6.2},{"p":6,"c":3,"t":195,"f":2},{"p":6,"c":3,"t":216,"f":-1.8},{"p":6,"c":3,"t":235,"f":2},{"p":6,"c":3,"t":254,"f":5.3},{"p":6,"c":3,"t":282,"f":4},{"p":6,"c":3,"t":310,"f":5},{"p":6,"c":3,"t":340,"f":4.2},{"p":6,"c":3,"t":366,"f":3.5},{"p":6,"c":3,"t":395,"f":2},{"p":6,"c":3,"t":423,"f":0.5},{"p":6,"c":3,"t":460,"f":-1.2},{"p":6,"c":3,"t":500,"f":-2},{"p":6,"c":3,"t":550,"f":-1.5},{"p":6,"c":3,"t":600,"f":-0.5},{"p":6,"c":3,"t":650,"f":0.4},{"p":6,"c":3,"t":700,"f":1.2},{"p":6,"c":3,"t":750,"f":0.8},{"p":6,"c":3,"t":800,"f":0.2},
{"p":6,"c":4,"t":0,"f":0},{"p":6,"c":4,"t":99,"f":0},{"p":6,"c":4,"t":112,"f":-1.2},{"p":6,"c":4,"t":125,"f":-3.5},{"p":6,"c":4,"t":140,"f":-2.5},{"p":6,"c":4,"t":160,"f":2},{"p":6,"c":4,"t":174,"f":5.5},{"p":6,"c":4,"t":195,"f":1.5},{"p":6,"c":4,"t":216,"f":-1.8},{"p":6,"c":4,"t":235,"f":1.5},{"p":6,"c":4,"t":254,"f":3.5},{"p":6,"c":4,"t":282,"f":2.8},{"p":6,"c":4,"t":310,"f":3.5},{"p":6,"c":4,"t":340,"f":2.8},{"p":6,"c":4,"t":366,"f":2},{"p":6,"c":4,"t":395,"f":1},{"p":6,"c":4,"t":423,"f":0.2},{"p":6,"c":4,"t":460,"f":-0.8},{"p":6,"c":4,"t":500,"f":-1.5},{"p":6,"c":4,"t":550,"f":-1},{"p":6,"c":4,"t":600,"f":-0.3},{"p":6,"c":4,"t":650,"f":0.3},{"p":6,"c":4,"t":700,"f":0.8},{"p":6,"c":4,"t":750,"f":0.5},{"p":6,"c":4,"t":800,"f":0.2},
{"p":6,"c":5,"t":0,"f":0},{"p":6,"c":5,"t":99,"f":0},{"p":6,"c":5,"t":112,"f":-0.5},{"p":6,"c":5,"t":125,"f":-2},{"p":6,"c":5,"t":140,"f":-2.5},{"p":6,"c":5,"t":160,"f":0.5},{"p":6,"c":5,"t":174,"f":3.5},{"p":6,"c":5,"t":195,"f":1.5},{"p":6,"c":5,"t":216,"f":-1.5},{"p":6,"c":5,"t":235,"f":0.5},{"p":6,"c":5,"t":254,"f":2.3},{"p":6,"c":5,"t":282,"f":1.5},{"p":6,"c":5,"t":310,"f":1},{"p":6,"c":5,"t":340,"f":0.2},{"p":6,"c":5,"t":366,"f":-0.5},{"p":6,"c":5,"t":395,"f":-0.8},{"p":6,"c":5,"t":423,"f":-1},{"p":6,"c":5,"t":460,"f":-0.8},{"p":6,"c":5,"t":500,"f":-0.5},{"p":6,"c":5,"t":550,"f":-0.3},{"p":6,"c":5,"t":600,"f":0},{"p":6,"c":5,"t":650,"f":0.5},{"p":6,"c":5,"t":700,"f":0.8},{"p":6,"c":5,"t":750,"f":0.5},{"p":6,"c":5,"t":800,"f":0.2},
{"p":6,"c":6,"t":0,"f":0},{"p":6,"c":6,"t":99,"f":0},{"p":6,"c":6,"t":112,"f":0.5},{"p":6,"c":6,"t":125,"f":0.5},{"p":6,"c":6,"t":140,"f":-1.5},{"p":6,"c":6,"t":160,"f":-2.5},{"p":6,"c":6,"t":174,"f":-0.5},{"p":6,"c":6,"t":195,"f":1.2},{"p":6,"c":6,"t":216,"f":-1},{"p":6,"c":6,"t":235,"f":-0.5},{"p":6,"c":6,"t":254,"f":1},{"p":6,"c":6,"t":282,"f":-0.5},{"p":6,"c":6,"t":310,"f":-1.5},{"p":6,"c":6,"t":340,"f":-1.8},{"p":6,"c":6,"t":366,"f":-2.2},{"p":6,"c":6,"t":395,"f":-2},{"p":6,"c":6,"t":423,"f":-1.8},{"p":6,"c":6,"t":460,"f":-1},{"p":6,"c":6,"t":500,"f":-0.5},{"p":6,"c":6,"t":550,"f":0},{"p":6,"c":6,"t":600,"f":0.3},{"p":6,"c":6,"t":650,"f":0.5},{"p":6,"c":6,"t":700,"f":0.6},{"p":6,"c":6,"t":750,"f":0.4},{"p":6,"c":6,"t":800,"f":0.2},
{"p":6,"c":7,"t":0,"f":0},{"p":6,"c":7,"t":99,"f":0},{"p":6,"c":7,"t":112,"f":1.2},{"p":6,"c":7,"t":125,"f":1},{"p":6,"c":7,"t":140,"f":-1},{"p":6,"c":7,"t":160,"f":-3.1},{"p":6,"c":7,"t":174,"f":-1.5},{"p":6,"c":7,"t":195,"f":1.5},{"p":6,"c":7,"t":216,"f":-0.5},{"p":6,"c":7,"t":235,"f":-1.5},{"p":6,"c":7,"t":254,"f":-0.5},{"p":6,"c":7,"t":282,"f":-2.5},{"p":6,"c":7,"t":310,"f":-3.5},{"p":6,"c":7,"t":340,"f":-2.8},{"p":6,"c":7,"t":366,"f":-3.2},{"p":6,"c":7,"t":395,"f":-3},{"p":6,"c":7,"t":423,"f":-2.5},{"p":6,"c":7,"t":460,"f":-1.2},{"p":6,"c":7,"t":500,"f":-0.8},{"p":6,"c":7,"t":550,"f":-0.5},{"p":6,"c":7,"t":600,"f":0},{"p":6,"c":7,"t":650,"f":0.3},{"p":6,"c":7,"t":700,"f":0.5},{"p":6,"c":7,"t":750,"f":0.3},{"p":6,"c":7,"t":800,"f":0.1},
{"p":6,"c":8,"t":0,"f":0},{"p":6,"c":8,"t":99,"f":0},{"p":6,"c":8,"t":112,"f":1.4},{"p":6,"c":8,"t":125,"f":1.2},{"p":6,"c":8,"t":140,"f":-0.8},{"p":6,"c":8,"t":160,"f":-3},{"p":6,"c":8,"t":174,"f":-2},{"p":6,"c":8,"t":195,"f":1.8},{"p":6,"c":8,"t":216,"f":0},{"p":6,"c":8,"t":235,"f":-2},{"p":6,"c":8,"t":254,"f":-2.5},{"p":6,"c":8,"t":282,"f":-3.5},{"p":6,"c":8,"t":310,"f":-4.8},{"p":6,"c":8,"t":340,"f":-4.3},{"p":6,"c":8,"t":366,"f":-4.6},{"p":6,"c":8,"t":395,"f":-4.8},{"p":6,"c":8,"t":423,"f":-3.5},{"p":6,"c":8,"t":460,"f":-1.8},{"p":6,"c":8,"t":500,"f":-1},{"p":6,"c":8,"t":550,"f":-0.6},{"p":6,"c":8,"t":600,"f":-0.2},{"p":6,"c":8,"t":650,"f":0.2},{"p":6,"c":8,"t":700,"f":0.4},{"p":6,"c":8,"t":750,"f":0.2},{"p":6,"c":8,"t":800,"f":0}
]},
"bounds":"flush",
"columns":2,
"spacing":{"row":22,"column":43},
"concat":[
{"width":284,"height":187,"layer":[
{"data":{"name":"ax"},"transform":[{"filter":"datum.p==1"}],"mark":{"type":"rule","color":"#808080","strokeWidth":1.5},"encoding":{"x":{"field":"t","type":"quantitative","scale":{"domain":[0,800],"nice":false},"axis":null},"y":{"field":"lo","type":"quantitative","scale":{"domain":[-10,10],"nice":false,"zero":false},"axis":{"values":[-10,-5,5,10],"labelExpr":"datum.value==10?'10':datum.value==-10?'-10':''","title":"Force (N)","titleAngle":0,"titleAlign":"left","titleBaseline":"alphabetic","titleX":-3,"titleY":-19,"titleFont":"DejaVu Sans","titleFontSize":20,"titleFontWeight":"normal","titleColor":"#2a2a2a"}},"y2":{"field":"hi"}}},
{"data":{"name":"tr"},"transform":[{"filter":"datum.p==1"}],"mark":{"type":"line","interpolate":"monotone","strokeWidth":1.4},"encoding":{"x":{"field":"t","type":"quantitative","scale":{"domain":[0,800],"nice":false},"axis":null},"y":{"field":"f","type":"quantitative","scale":{"domain":[-10,10],"nice":false,"zero":false},"axis":{"values":[-10,-5,5,10],"labelExpr":"datum.value==10?'10':datum.value==-10?'-10':''","title":"Force (N)","titleAngle":0,"titleAlign":"left","titleBaseline":"alphabetic","titleX":-3,"titleY":-19,"titleFont":"DejaVu Sans","titleFontSize":20,"titleFontWeight":"normal","titleColor":"#2a2a2a"}},"color":{"field":"c","type":"ordinal","scale":{"domain":[1,2,3,4,5,6,7,8],"range":["#262626","#383838","#4c4c4c","#606060","#767676","#8a8a8a","#9e9e9e","#b2b2b2"]},"legend":null}}}
]},
{"width":284,"height":187,"layer":[
{"data":{"name":"ax"},"transform":[{"filter":"datum.p==2"}],"mark":{"type":"rule","color":"#808080","strokeWidth":1.5},"encoding":{"x":{"field":"t","type":"quantitative","scale":{"domain":[0,800],"nice":false},"axis":null},"y":{"field":"lo","type":"quantitative","scale":{"domain":[-7.48,7.02],"nice":false,"zero":false},"axis":{"values":[-5,5],"labelExpr":"datum.value==5?'5':'-5'","title":null}},"y2":{"field":"hi"}}},
{"data":{"name":"tr"},"transform":[{"filter":"datum.p==2"}],"mark":{"type":"line","interpolate":"monotone","strokeWidth":1.4},"encoding":{"x":{"field":"t","type":"quantitative","scale":{"domain":[0,800],"nice":false},"axis":null},"y":{"field":"f","type":"quantitative","scale":{"domain":[-7.48,7.02],"nice":false,"zero":false},"axis":{"values":[-5,5],"labelExpr":"datum.value==5?'5':'-5'","title":null}},"color":{"field":"c","type":"ordinal","scale":{"domain":[1,2,3,4,5,6,7,8],"range":["#262626","#383838","#4c4c4c","#606060","#767676","#8a8a8a","#9e9e9e","#b2b2b2"]},"legend":null}}}
]},
{"width":284,"height":190,"layer":[
{"data":{"name":"ax"},"transform":[{"filter":"datum.p==3"}],"mark":{"type":"rule","color":"#808080","strokeWidth":1.5},"encoding":{"x":{"field":"t","type":"quantitative","scale":{"domain":[0,800],"nice":false},"axis":null},"y":{"field":"lo","type":"quantitative","scale":{"domain":[-16.89,12.87],"nice":false,"zero":false},"axis":{"values":[-10,10],"labelExpr":"datum.value==10?'10':'-10'","title":null}},"y2":{"field":"hi"}}},
{"data":{"name":"tr"},"transform":[{"filter":"datum.p==3"}],"mark":{"type":"line","interpolate":"monotone","strokeWidth":1.4},"encoding":{"x":{"field":"t","type":"quantitative","scale":{"domain":[0,800],"nice":false},"axis":null},"y":{"field":"f","type":"quantitative","scale":{"domain":[-16.89,12.87],"nice":false,"zero":false},"axis":{"values":[-10,10],"labelExpr":"datum.value==10?'10':'-10'","title":null}},"color":{"field":"c","type":"ordinal","scale":{"domain":[1,2,3,4,5,6,7,8],"range":["#262626","#383838","#4c4c4c","#606060","#767676","#8a8a8a","#9e9e9e","#b2b2b2"]},"legend":null}}}
]},
{"width":284,"height":190,"layer":[
{"data":{"name":"ax"},"transform":[{"filter":"datum.p==4"}],"mark":{"type":"rule","color":"#808080","strokeWidth":1.5},"encoding":{"x":{"field":"t","type":"quantitative","scale":{"domain":[0,800],"nice":false},"axis":null},"y":{"field":"lo","type":"quantitative","scale":{"domain":[-16.15,10],"nice":false,"zero":false},"axis":{"values":[-10,10],"labelExpr":"datum.value==10?'10':'-10'","title":null}},"y2":{"field":"hi"}}},
{"data":{"name":"tr"},"transform":[{"filter":"datum.p==4"}],"mark":{"type":"line","interpolate":"monotone","strokeWidth":1.4},"encoding":{"x":{"field":"t","type":"quantitative","scale":{"domain":[0,800],"nice":false},"axis":null},"y":{"field":"f","type":"quantitative","scale":{"domain":[-16.15,10],"nice":false,"zero":false},"axis":{"values":[-10,10],"labelExpr":"datum.value==10?'10':'-10'","title":null}},"color":{"field":"c","type":"ordinal","scale":{"domain":[1,2,3,4,5,6,7,8],"range":["#262626","#383838","#4c4c4c","#606060","#767676","#8a8a8a","#9e9e9e","#b2b2b2"]},"legend":null}}}
]},
{"width":284,"height":156,"layer":[
{"data":{"name":"ax"},"transform":[{"filter":"datum.p==5"}],"mark":{"type":"rule","color":"#808080","strokeWidth":1.5},"encoding":{"x":{"field":"t","type":"quantitative","scale":{"domain":[0,800],"nice":false},"axis":null},"y":{"field":"lo","type":"quantitative","scale":{"domain":[-10,10],"nice":false,"zero":false},"axis":{"values":[-10,10],"labelExpr":"datum.value==10?'10':'-10'","title":null}},"y2":{"field":"hi"}}},
{"data":{"name":"tr"},"transform":[{"filter":"datum.p==5"}],"mark":{"type":"line","interpolate":"monotone","strokeWidth":1.4},"encoding":{"x":{"field":"t","type":"quantitative","scale":{"domain":[0,800],"nice":false},"axis":null},"y":{"field":"f","type":"quantitative","scale":{"domain":[-10,10],"nice":false,"zero":false},"axis":{"values":[-10,10],"labelExpr":"datum.value==10?'10':'-10'","title":null}},"color":{"field":"c","type":"ordinal","scale":{"domain":[1,2,3,4,5,6,7,8],"range":["#262626","#383838","#4c4c4c","#606060","#767676","#8a8a8a","#9e9e9e","#b2b2b2"]},"legend":null}}}
]},
{"width":284,"height":156,"layer":[
{"data":{"name":"ax"},"transform":[{"filter":"datum.p==6"}],"mark":{"type":"rule","color":"#808080","strokeWidth":1.5},"encoding":{"x":{"field":"t","type":"quantitative","scale":{"domain":[0,800],"nice":false},"axis":null},"y":{"field":"lo","type":"quantitative","scale":{"domain":[-10,10],"nice":false,"zero":false},"axis":{"values":[-10,10],"labelExpr":"datum.value==10?'10':'-10'","title":null}},"y2":{"field":"hi"}}},
{"data":{"name":"tr"},"transform":[{"filter":"datum.p==6"}],"mark":{"type":"line","interpolate":"monotone","strokeWidth":1.4},"encoding":{"x":{"field":"t","type":"quantitative","scale":{"domain":[0,800],"nice":false},"axis":null},"y":{"field":"f","type":"quantitative","scale":{"domain":[-10,10],"nice":false,"zero":false},"axis":{"values":[-10,10],"labelExpr":"datum.value==10?'10':'-10'","title":null}},"color":{"field":"c","type":"ordinal","scale":{"domain":[1,2,3,4,5,6,7,8],"range":["#262626","#383838","#4c4c4c","#606060","#767676","#8a8a8a","#9e9e9e","#b2b2b2"]},"legend":null}}},
{"data":{"name":"sb"},"mark":{"type":"rule","color":"#333333","strokeWidth":1.3},"encoding":{"x":{"field":"a","type":"quantitative"},"x2":{"field":"b"},"y":{"field":"y","type":"quantitative"}}},
{"data":{"name":"sbt"},"mark":{"type":"rule","color":"#333333","strokeWidth":1.3},"encoding":{"x":{"field":"x","type":"quantitative"},"y":{"field":"y1","type":"quantitative"},"y2":{"field":"y2"}}},
{"data":{"name":"sbl"},"mark":{"type":"text","align":"left","baseline":"alphabetic","font":"DejaVu Sans","fontSize":19,"color":"#2a2a2a"},"encoding":{"x":{"field":"x","type":"quantitative"},"y":{"field":"y","type":"quantitative"},"text":{"field":"l"}}}
]}
]
}
